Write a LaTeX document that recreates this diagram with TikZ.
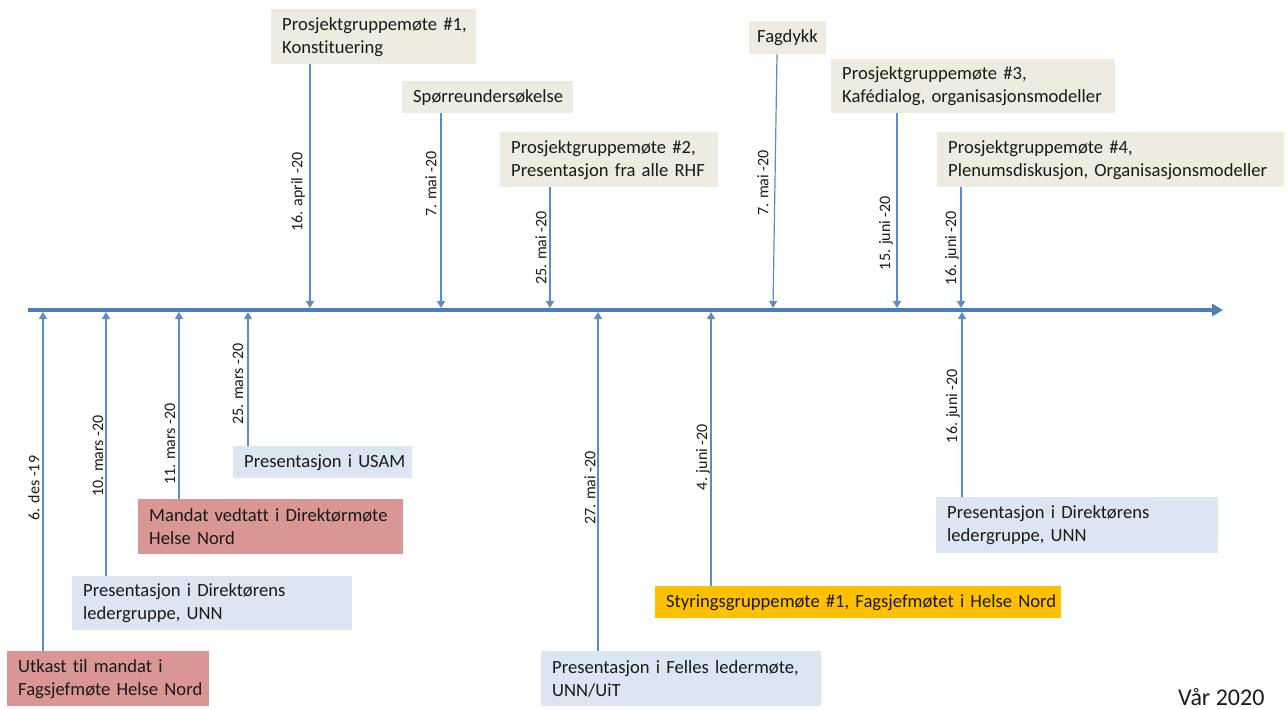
\documentclass[tikz,border=0pt]{standalone}
\usepackage{fontspec}
\setmainfont[Ligatures={TeX,NoCommon}]{Carlito}
\usetikzlibrary{arrows.meta}
\definecolor{tanbox}{HTML}{EEECE1}
\definecolor{bluebox}{HTML}{DCE6F2}
\definecolor{redbox}{HTML}{D99694}
\definecolor{yellowbox}{HTML}{FFC000}
\definecolor{linecol}{HTML}{5B8CC8}
\definecolor{axiscol}{HTML}{4A7EBB}
\definecolor{txtcol}{HTML}{1A1A1A}
\newcommand\boxfont{\fontsize{18.6}{23}\selectfont}
\newcommand\lblfont{\fontsize{16}{19}\selectfont}
\begin{document}
\begin{tikzpicture}[x=1pt,y=-1pt,
  evbox/.style={anchor=north west, inner xsep=11pt, inner ysep=0pt, align=left, font=\boxfont, text=txtcol},
  conn/.style={draw=linecol, line width=1.2pt, -{Triangle[width=8pt,length=7pt]}},
  axisline/.style={draw=axiscol, line width=4pt, -{Triangle[width=12pt,length=11pt]}},
  datelbl/.style={rotate=90, inner sep=0pt, font=\lblfont, text=txtcol}]
\useasboundingbox (0,0) rectangle (1288,709);

% axis
\coordinate (axstart) at (28,310);
\coordinate (axend) at (1223,310);
\draw[axisline] (axstart) -- (axend);

% axis points (top side)
\coordinate (a1) at (310,308);
\coordinate (a2) at (441,308);
\coordinate (a3) at (550,308);
\coordinate (a4) at (773,308);
\coordinate (a5) at (897,308);
\coordinate (a6) at (961,308);
% axis points (bottom side)
\coordinate (b1) at (43,312);
\coordinate (b2) at (106,312);
\coordinate (b3) at (179,312);
\coordinate (b4) at (248,312);
\coordinate (b5) at (598,312);
\coordinate (b6) at (711,312);
\coordinate (b7) at (962,312);

% top boxes
\node[evbox, fill=tanbox, text width=183pt, minimum height=55pt] (T1) at (271,9)
  {\mbox{Prosjektgruppemøte \#1,}\\\mbox{Konstituering}};
\node[evbox, fill=tanbox, text width=149pt, minimum height=32pt] (T2) at (402,81)
  {\mbox{Spørreundersøkelse}};
\node[evbox, fill=tanbox, text width=196pt, minimum height=55pt] (T3) at (500,132)
  {\mbox{Prosjektgruppemøte \#2,}\\\mbox{Presentasjon fra alle RHF}};
\node[evbox, fill=tanbox, inner xsep=8pt, text width=61pt, minimum height=33pt] (T4) at (749,21)
  {\mbox{Fagdykk}};
\node[evbox, fill=tanbox, text width=262pt, minimum height=54pt] (T5) at (831,59)
  {\mbox{Prosjektgruppemøte \#3,}\\\mbox{Kafédialog, organisasjonsmodeller}};
\node[evbox, fill=tanbox, text width=325pt, minimum height=55pt] (T6) at (937,132)
  {\mbox{Prosjektgruppemøte \#4,}\\\mbox{Plenumsdiskusjon, Organisasjonsmodeller}};

% bottom boxes
\node[evbox, fill=redbox, text width=180pt, minimum height=55pt] (B1) at (7,651)
  {\mbox{Utkast til mandat i}\\\mbox{Fagsjefmøte Helse Nord}};
\node[evbox, fill=bluebox, text width=258pt, minimum height=54pt] (B2) at (72,576)
  {\mbox{Presentasjon i Direktørens}\\\mbox{ledergruppe, UNN}};
\node[evbox, fill=redbox, text width=243pt, minimum height=55pt] (B3) at (138,499)
  {\mbox{Mandat vedtatt i Direktørmøte}\\\mbox{Helse Nord}};
\node[evbox, fill=bluebox, text width=157pt, minimum height=32pt] (B4) at (233,446)
  {\mbox{Presentasjon i USAM}};
\node[evbox, fill=bluebox, text width=258pt, minimum height=55pt] (B5) at (541,651)
  {\mbox{Presentasjon i Felles ledermøte,}\\\mbox{UNN/UiT}};
\node[evbox, fill=yellowbox, text width=384pt, minimum height=32pt] (B6) at (655,586)
  {\mbox{Styringsgruppemøte \#1, Fagsjefmøtet i Helse Nord}};
\node[evbox, fill=bluebox, text width=260pt, minimum height=56pt] (B7) at (936,497)
  {\mbox{Presentasjon i Direktørens}\\\mbox{ledergruppe, UNN}};

% connectors top
\draw[conn] (T1.south -| a1) -- (a1);
\draw[conn] (T2.south -| a2) -- (a2);
\draw[conn] (T3.south -| a3) -- (a3);
\draw[conn] ([xshift=28pt]T4.south west) -- (a4);
\draw[conn] (T5.south -| a5) -- (a5);
\draw[conn] (T6.south -| a6) -- (a6);
% connectors bottom
\draw[conn] (B1.north -| b1) -- (b1);
\draw[conn] (B2.north -| b2) -- (b2);
\draw[conn] (B3.north -| b3) -- (b3);
\draw[conn] (B4.north -| b4) -- (b4);
\draw[conn] (B5.north -| b5) -- (b5);
\draw[conn] (B6.north -| b6) -- (b6);
\draw[conn] (B7.north -| b7) -- (b7);

% date labels
\node[datelbl] (d1) at (298,192) {16. april -20};
\node[datelbl] (d2) at (431,184) {7. mai -20};
\node[datelbl] (d3) at (541,248) {25. mai -20};
\node[datelbl] (d4) at (763,183) {7. mai -20};
\node[datelbl] (d5) at (886,233) {15. juni -20};
\node[datelbl] (d6) at (952,248) {16. juni -20};
\node[datelbl] (e1) at (34,488) {6. des -19};
\node[datelbl] (e2) at (98,456) {10. mars -20};
\node[datelbl] (e3) at (170,444) {11. mars -20};
\node[datelbl] (e4) at (238,384) {25. mars -20};
\node[datelbl] (e5) at (590,488) {27. mai -20};
\node[datelbl] (e6) at (703,457) {4. juni -20};
\node[datelbl] (e7) at (953,406) {16. juni -20};

% season label
\node[anchor=base west, inner sep=0pt, font=\fontsize{24}{28}\selectfont, text=txtcol] (season) at (1178,705) {Vår 2020};
\end{tikzpicture}
\end{document}
